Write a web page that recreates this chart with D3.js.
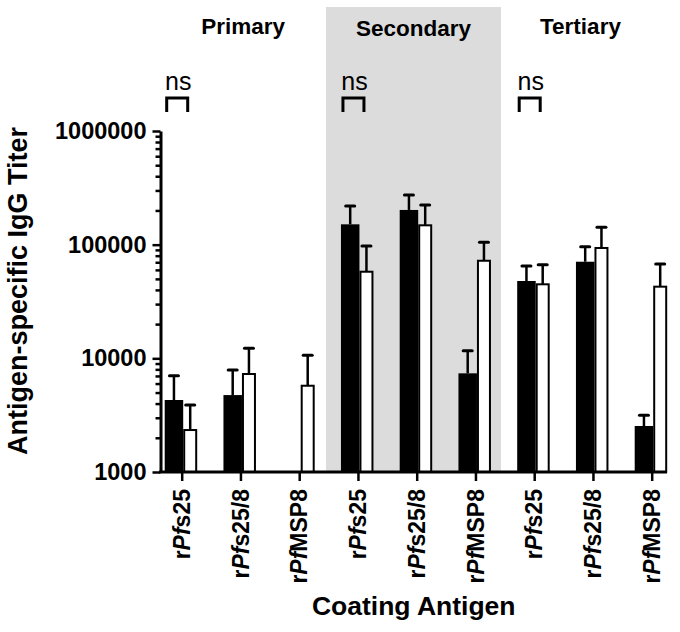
<!DOCTYPE html>
<html>
<head>
<meta charset="utf-8">
<script src="https://cdn.jsdelivr.net/npm/d3@7"></script>
<style>
  body { margin: 0; background: #fff; }
  svg { display: block; font-family: "Liberation Sans", Arial, Helvetica, sans-serif; }
</style>
</head>
<body>
<svg id="chart" width="680" height="632"></svg>
<script>
// ---- data ----
const phases = ["Primary", "Secondary", "Tertiary"];
const antigens = ["rPfs25", "rPfs25/8", "rPfMSP8"];
// black series (mean and upper error), in order phase x antigen
const blackMeans = [4300, 4750, null, 151000, 202000, 7380, 47900, 70800, 2540];
const blackUpper = [7030, 7890, null, 219000, 273000, 11660, 64800, 95900, 3150];
// white series
const whiteMeans = [2340, 7280, 5740, 57800, 148000, 72200, 44800, 93500, 42700];
const whiteUpper = [3880, 12250, 10650, 97300, 223000, 105000, 66700, 142000, 67600];
const yTickValues = [1000, 10000, 100000, 1000000];
const nsLabels = ["ns", "ns", "ns"];

// ---- layout ----
const svg = d3.select("#chart");
const keys = [];
phases.forEach(p => antigens.forEach(a => keys.push(p + "|" + a)));

const y = d3.scaleLog().domain([1000, 1000000]).range([472, 131]);
const x = d3.scalePoint().domain(keys).range([181.7, 651.7]);
const axisX = 160.5;
const axisRight = 667;

// shaded secondary panel
const shadeLeft = x(keys[3]) - 32;
const shadeRight = x(keys[5]) + 25.5;
svg.append("rect")
  .attr("x", shadeLeft).attr("y", 7)
  .attr("width", shadeRight - shadeLeft).attr("height", y(1000) - 7)
  .attr("fill", "#dcdcdc");

// phase labels
const panelCenters = [(axisX + shadeLeft) / 2, (shadeLeft + shadeRight) / 2, (shadeRight + 660) / 2];
const phaseBaselines = [34, 36, 34];
svg.selectAll("text.phase").data(phases).enter().append("text")
  .attr("class", "phase")
  .attr("x", (d, i) => panelCenters[i])
  .attr("y", (d, i) => phaseBaselines[i])
  .attr("text-anchor", "middle")
  .attr("font-weight", "bold").attr("font-size", 22.5)
  .text(d => d);

// ns brackets over first antigen of each phase
phases.forEach((p, i) => {
  const t = x(p + "|" + antigens[0]);
  svg.append("text").attr("x", t - 3.5).attr("y", 90)
    .attr("text-anchor", "middle").attr("font-size", 25)
    .text(nsLabels[i]);
  svg.append("path")
    .attr("d", `M${t - 15},112 V98 H${t + 6} V112`)
    .attr("fill", "none").attr("stroke", "#000").attr("stroke-width", 3);
});

// bars
const rows = keys.map((k, i) => ({ k, bm: blackMeans[i], bu: blackUpper[i], wm: whiteMeans[i], wu: whiteUpper[i] }));
const base = y(1000);

const errW = 4.5;
rows.forEach(r => {
  const t = x(r.k);
  if (r.bm != null) {
    const cx = t - 7.75;
    svg.append("line").attr("x1", cx).attr("x2", cx).attr("y1", y(r.bm)).attr("y2", y(r.bu))
      .attr("stroke", "#000").attr("stroke-width", 2.5);
    svg.append("line").attr("x1", cx - errW).attr("x2", cx + errW).attr("y1", y(r.bu)).attr("y2", y(r.bu))
      .attr("stroke", "#000").attr("stroke-width", 3).attr("stroke-linecap", "round");
    svg.append("rect").attr("x", t - 17).attr("y", y(r.bm))
      .attr("width", 18.5).attr("height", base - y(r.bm)).attr("fill", "#000");
  }
  if (r.wm != null) {
    const cx = t + 8.5;
    svg.append("line").attr("x1", cx).attr("x2", cx).attr("y1", y(r.wm)).attr("y2", y(r.wu))
      .attr("stroke", "#000").attr("stroke-width", 2.5);
    svg.append("line").attr("x1", cx - errW).attr("x2", cx + errW).attr("y1", y(r.wu)).attr("y2", y(r.wu))
      .attr("stroke", "#000").attr("stroke-width", 3).attr("stroke-linecap", "round");
    svg.append("rect").attr("x", t + 2.5).attr("y", y(r.wm))
      .attr("width", 12).attr("height", base - y(r.wm))
      .attr("fill", "#fff").attr("stroke", "#000").attr("stroke-width", 2);
  }
});

// y axis: minor ticks
const minorTicks = [];
for (let d = 1000; d < 1000000; d *= 10) for (let m = 2; m <= 9; m++) minorTicks.push(d * m);

const gyMinor = svg.append("g").attr("transform", `translate(${axisX},0)`)
  .call(d3.axisLeft(y).tickValues(minorTicks).tickSize(5).tickSizeOuter(0).tickFormat(""));
gyMinor.select(".domain").remove();
gyMinor.selectAll(".tick line").attr("stroke-width", 2.5);

// y axis: major ticks with labels
const gy = svg.append("g").attr("transform", `translate(${axisX},0)`)
  .call(d3.axisLeft(y).tickValues(yTickValues).tickSize(8).tickSizeOuter(0).tickPadding(6).tickFormat(d3.format("d")));
gy.select(".domain").attr("stroke-width", 3);
gy.selectAll(".tick line").attr("stroke-width", 2.5);
gy.selectAll(".tick text").attr("font-size", 23.5).attr("font-weight", "bold")
  .attr("font-family", "Liberation Sans, Arial, sans-serif").attr("fill", "#000");

// x axis
const gx = svg.append("g").attr("transform", `translate(0,${base})`)
  .call(d3.axisBottom(x).tickSize(9).tickSizeOuter(0).tickFormat(""));
gx.select(".domain").remove();
gx.selectAll(".tick line").attr("stroke-width", 2.5);
svg.append("line").attr("x1", axisX - 1.5).attr("x2", axisRight)
  .attr("y1", base).attr("y2", base).attr("stroke", "#000").attr("stroke-width", 3);

// rotated x tick labels with italic "Pf"
keys.forEach(k => {
  const name = k.split("|")[1];
  const t = x(k);
  const txt = svg.append("text")
    .attr("transform", `translate(${t},489) rotate(-90)`)
    .attr("text-anchor", "end").attr("dy", "0.36em")
    .attr("font-size", 23).attr("font-weight", "bold");
  txt.append("tspan").text(name.slice(0, 1));
  txt.append("tspan").attr("font-style", "italic").text(name.slice(1, 3));
  txt.append("tspan").text(name.slice(3));
});

// axis titles
svg.append("text")
  .attr("transform", "translate(27,291) rotate(-90)")
  .attr("text-anchor", "middle").attr("font-size", 27).attr("font-weight", "bold")
  .text("Antigen-specific IgG Titer");
svg.append("text")
  .attr("x", (axisX + axisRight) / 2).attr("y", 615)
  .attr("text-anchor", "middle").attr("font-size", 26.5).attr("font-weight", "bold")
  .text("Coating Antigen");
</script>
</body>
</html>
